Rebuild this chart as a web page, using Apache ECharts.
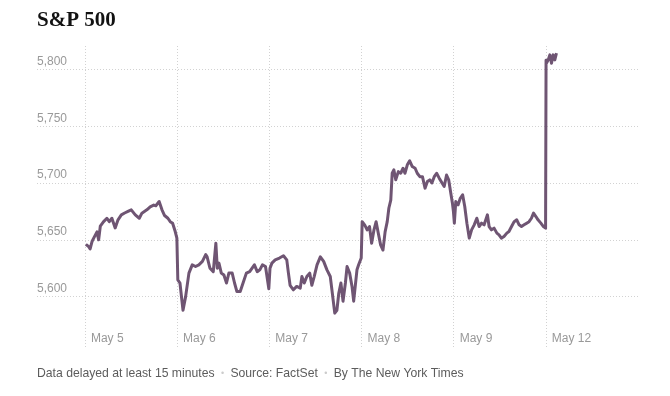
<!DOCTYPE html>
<html>
<head>
<meta charset="utf-8">
<script src="https://cdn.jsdelivr.net/npm/echarts@6/dist/echarts.min.js"></script>
<style>
  html, body { margin: 0; padding: 0; background: #fff; }
  #chart { width: 670px; height: 396px; }
</style>
</head>
<body>
<div id="chart"></div>
<script>
// trading days shown on the axis
const dayLabels = ['May 5', 'May 6', 'May 7', 'May 8', 'May 9', 'May 12'];
const yTicks = [5600, 5650, 5700, 5750, 5800];
const minutesPerDay = 390; // 9:30 to 16:00

// [minutes since open, index level]
const may5 = [
  [4, 5646], [16, 5644], [22, 5642], [30, 5648.5], [41, 5653], [51, 5657], [58, 5650],
  [65, 5662], [79, 5666], [93, 5669], [103, 5666], [114, 5669], [128, 5660.5], [140, 5667.6],
  [154, 5672], [168, 5673.6], [182, 5675], [196, 5676.4], [213, 5672], [230, 5669],
  [241, 5673.5], [262, 5676.4], [276, 5679], [291, 5680.6], [300, 5680], [314, 5683.7],
  [326, 5676.4], [337, 5671.4], [351, 5669], [361, 5666], [371, 5664.6], [382, 5657.3],
  [389, 5651.5]
];
const may6 = [
  [3, 5614.8], [12, 5612], [25, 5588], [36, 5600], [50, 5620.7], [64, 5628], [78, 5626.5],
  [92, 5628], [107, 5631], [121, 5637], [127, 5635], [139, 5625], [153, 5622], [164, 5647],
  [170, 5625], [177, 5629.5], [187, 5620.7], [198, 5619], [209, 5612], [219, 5620.7],
  [233, 5620.7], [243, 5612], [253, 5604.5], [267, 5604.5], [279, 5612], [293, 5620.7],
  [307, 5622], [327, 5628], [339, 5622], [350, 5623.6], [361, 5628], [374, 5626.5],
  [388, 5607]
];
const may7 = [
  [3, 5625], [11, 5629.5], [25, 5632.4], [43, 5634], [60, 5636], [74, 5632.4], [81, 5620.7],
  [88, 5610], [102, 5606], [116, 5609], [131, 5607.5], [138, 5617.7], [148, 5612],
  [159, 5617.7], [171, 5620.7], [180, 5610], [190, 5617.7], [202, 5628], [216, 5635],
  [230, 5631], [244, 5623.6], [258, 5617.7], [265, 5606], [277, 5585.5], [286, 5588],
  [294, 5603], [303, 5612], [312, 5596], [322, 5612], [329, 5626.5], [340, 5620.7],
  [350, 5609], [357, 5596], [364, 5596], [371, 5623.6], [378, 5628], [385, 5629.5],
  [389, 5634]
];
const may8 = [
  [3, 5666], [14, 5663], [24, 5658.8], [34, 5661.7], [43, 5647], [53, 5658.8], [62, 5666],
  [71, 5656], [81, 5645.6], [91, 5641], [100, 5657], [109, 5666], [116, 5678], [124, 5685],
  [130, 5708.6], [137, 5711.6], [145, 5702.8], [156, 5710], [166, 5708.6], [176, 5713],
  [184, 5708.6], [194, 5716], [204, 5719.5], [215, 5714.5], [227, 5713], [236, 5708.6],
  [247, 5705.6], [258, 5705.6], [269, 5695.5], [279, 5701.3], [289, 5702.8], [298, 5700],
  [308, 5705.6], [318, 5708.6], [329, 5704.3], [341, 5700], [350, 5697], [360, 5707],
  [369, 5702.8], [378, 5691], [385, 5682], [389, 5675]
];
const may9 = [
  [3, 5664.7], [9, 5683.7], [19, 5680.8], [28, 5686.6], [38, 5689.6], [47, 5679.3],
  [56, 5664.7], [66, 5651.5], [76, 5658.8], [87, 5663.2], [98, 5669], [108, 5661.7],
  [118, 5664.7], [129, 5663.2], [143, 5672], [150, 5661.7], [160, 5658.8], [171, 5660.3],
  [183, 5655.9], [192, 5654.4], [202, 5651.5], [213, 5652.9], [225, 5655.9], [234, 5657.3],
  [245, 5661.7], [256, 5666], [267, 5667.6], [277, 5663.2], [287, 5661.7], [298, 5663.2],
  [309, 5664.7], [319, 5666], [329, 5669], [338, 5673.5], [348, 5670.5], [357, 5667.6],
  [369, 5664.7], [380, 5661.7], [389, 5660.3]
];
const may12 = [
  [1, 5808], [3, 5805.5], [10, 5808.4], [17, 5812.8], [24, 5805.5], [31, 5812.8],
  [38, 5808.4], [45, 5814.3]
];

const days = [may5, may6, may7, may8, may9, may12];

// x is measured in trading days from the May 5 open
const seriesData = [];
days.forEach((day, d) => {
  day.forEach((p) => {
    seriesData.push([d + p[0] / minutesPerDay, p[1]]);
  });
});

const chart = echarts.init(document.getElementById('chart'));

const gridLine = { show: true, lineStyle: { color: '#d2d2d2', width: 1, type: [1, 2] } };

chart.setOption({
  animation: false,
  title: [
    {
      text: 'S&P 500',
      left: 37,
      top: 10,
      padding: 0,
      textStyle: { fontFamily: 'Liberation Serif', fontWeight: 'bold', fontSize: 21, color: '#121212' }
    },
    {
      text: 'Data delayed at least 15 minutes {dot|•} Source: FactSet {dot|•} By The New York Times',
      left: 37,
      top: 368,
      padding: 0,
      textStyle: {
        fontFamily: 'Liberation Sans',
        fontWeight: 'normal',
        fontSize: 12.2,
        color: '#5c5c5c',
        rich: { dot: { color: '#ccc', fontSize: 9, padding: [0, 3, 0, 3] } }
      }
    }
  ],
  grid: { left: 37, right: 32, top: 46, bottom: 48 },
  xAxis: {
    type: 'value',
    min: -0.52,
    max: 6,
    axisLine: { show: false },
    axisTick: { show: false, customValues: [0, 1, 2, 3, 4, 5] },
    splitLine: gridLine,
    axisLabel: {
      inside: true,
      customValues: [0, 1, 2, 3, 4, 5],
      formatter: (v) => dayLabels[Math.round(v)],
      align: 'left',
      verticalAlign: 'bottom',
      margin: 3,
      padding: [0, 0, 0, 6],
      fontFamily: 'Liberation Sans',
      fontSize: 12,
      color: '#999'
    }
  },
  yAxis: {
    type: 'value',
    min: 5554.8,
    max: 5820.6,
    axisLine: { show: false },
    axisTick: { show: false, customValues: yTicks },
    splitLine: gridLine,
    axisLabel: {
      inside: true,
      customValues: yTicks,
      formatter: (v) => v.toLocaleString('en-US'),
      align: 'left',
      verticalAlign: 'bottom',
      margin: 0,
      padding: [0, 0, 2, 0],
      fontFamily: 'Liberation Sans',
      fontSize: 12,
      color: '#999'
    }
  },
  series: [
    {
      type: 'line',
      data: seriesData,
      showSymbol: false,
      lineStyle: { color: '#6f5573', width: 3, join: 'round' }
    }
  ]
});
</script>
</body>
</html>
